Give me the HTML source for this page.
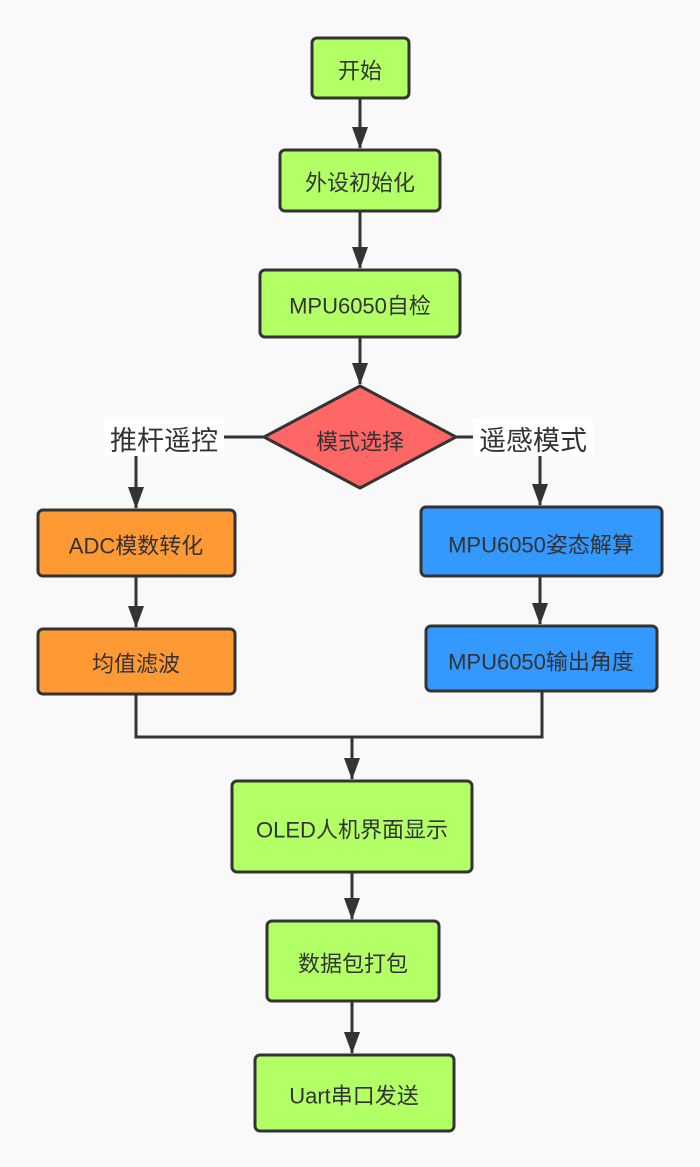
<!DOCTYPE html>
<html><head><meta charset="utf-8"><style>
html,body{margin:0;padding:0;background:#f9f9f9}
svg{display:block}
text{font-family:"Liberation Sans","Noto Sans CJK SC",sans-serif;fill:#333;text-anchor:middle;dominant-baseline:central}
</style></head><body>
<svg width="700" height="1167" viewBox="0 0 700 1167">
<defs>
<marker id="b" markerWidth="16" markerHeight="22" refX="8" refY="21" orient="0" markerUnits="userSpaceOnUse" viewBox="0 0 16 22"><path d="M0,0 L16,0 L8,22 z" fill="#333"/></marker></defs>
<g stroke="#333" stroke-width="3" fill="none">
<path d="M360 98 V148" marker-end="url(#b)"/>
<path d="M360 211 V268" marker-end="url(#b)"/>
<path d="M360 337 V384" marker-end="url(#b)"/>
<path d="M264 437 H136 V508" marker-end="url(#b)"/>
<path d="M456 437 H540 V505" marker-end="url(#b)"/>
<path d="M136 576 V627" marker-end="url(#b)"/>
<path d="M540 576 V624" marker-end="url(#b)"/>
<path d="M136 694 V737 H542 V691"/>
<path d="M352 737 V779" marker-end="url(#b)"/>
<path d="M352 872 V919" marker-end="url(#b)"/>
<path d="M352 1001 V1053" marker-end="url(#b)"/>
</g>
<rect x="104" y="419" width="120" height="37" fill="#fff"/>
<text x="164" y="441" font-size="27">推杆遥控</text>
<rect x="473" y="419" width="120" height="37" fill="#fff"/>
<text x="533" y="441" font-size="27">遥感模式</text>
<g stroke="#333" stroke-width="3">
<rect x="312" y="38" width="97" height="60" rx="5" fill="#b3ff66"/>
<rect x="280" y="150" width="160" height="61" rx="5" fill="#b3ff66"/>
<rect x="260" y="270" width="200" height="67" rx="5" fill="#b3ff66"/>
<path d="M360 386 L456 437 L360 488 L264 437 z" fill="#ff6666"/>
<rect x="38" y="510" width="197" height="66" rx="5" fill="#ff9933"/>
<rect x="38" y="629" width="197" height="65" rx="5" fill="#ff9933"/>
<rect x="421" y="507" width="241" height="69" rx="5" fill="#3399ff"/>
<rect x="426" y="626" width="231" height="65" rx="5" fill="#3399ff"/>
<rect x="232" y="781" width="240" height="91" rx="5" fill="#b3ff66"/>
<rect x="267" y="921" width="172" height="80" rx="5" fill="#b3ff66"/>
<rect x="255" y="1055" width="199" height="76" rx="5" fill="#b3ff66"/>
</g>
<g font-size="22">
<text x="360" y="71">开始</text>
<text x="360" y="183">外设初始化</text>
<text x="360" y="306">MPU6050自检</text>
<text x="360" y="442">模式选择</text>
<text x="136" y="546">ADC模数转化</text>
<text x="136" y="664">均值滤波</text>
<text x="541" y="545">MPU6050姿态解算</text>
<text x="541" y="662">MPU6050输出角度</text>
<text x="352" y="830">OLED人机界面显示</text>
<text x="353" y="964">数据包打包</text>
<text x="354" y="1096">Uart串口发送</text>
</g>
</svg>
</body></html>
